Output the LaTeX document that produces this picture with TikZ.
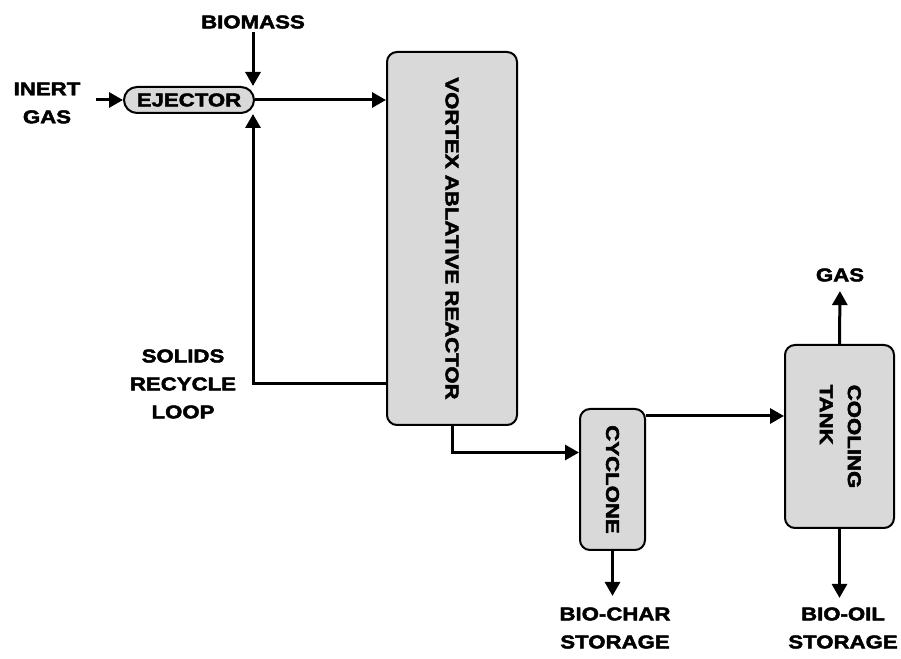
\documentclass[tikz,border=0pt]{standalone}
\usepackage{fontspec}
\setmainfont{Liberation Sans}[FakeStretch=1.2,BoldFeatures={FakeBold=2.5}]
\usetikzlibrary{arrows.meta}
\usepackage{graphicx}
\definecolor{boxgray}{RGB}{217,217,217}

\begin{document}
\begin{tikzpicture}[x=1pt,y=1pt,font=\fontsize{18.5}{28}\selectfont\bfseries,>={Triangle[length=14pt,width=15pt]}]
    \tikzset{blk/.style={rounded corners=10pt,draw,line width=2pt,fill=boxgray,inner sep=0pt},
             ar/.style={->,line width=3pt},
             lbl/.style={align=center}}
    \useasboundingbox (0,0) rectangle (901,658);
    \node[blk,minimum width=130,minimum height=373] (reac) at (452,419.5) {\rotatebox{-90}{VORTEX ABLATIVE REACTOR}};
    \node[blk,rounded corners=13pt,minimum width=130,minimum height=26] (ej) at (189,558) {EJECTOR};
    \node[blk,minimum width=65,minimum height=141] (cyc) at (612.5,178.5) {\rotatebox{-90}{CYCLONE}};
    \node[blk,minimum width=109,minimum height=183] (cool) at (839.5,221.5) {\rotatebox{-90}{\begin{tabular}{@{}l@{}}COOLING\\TANK\end{tabular}}};
    \node[lbl] (inert) at (47,555) {INERT\\GAS};
    \node[lbl] (bio) at (253,636) {BIOMASS};
    \node[lbl] (solid) at (183,274) {SOLIDS\\RECYCLE\\LOOP};
    \node[lbl] (char) at (615,30) {BIO-CHAR\\STORAGE};
    \node[lbl] (oil) at (843,30) {BIO-OIL\\STORAGE};
    \node[lbl] (gas) at (840,383) {GAS};
    \coordinate (ing) at (96,558);
    \coordinate (loop) at (253,274);
    \coordinate (cyo) at ([yshift=-8pt]cyc.north east);
    \coordinate (rin) at ([yshift=27pt]cyc.west);
    \draw[ar] (ing) -- (ej.west);
    \draw[ar] (bio.south) -- (bio.south |- ej.north);
    \draw[ar] (ej.east) -- (reac.west |- ej.east);
    \draw[ar] (reac.west |- loop) -- (loop) -- (loop |- ej.south);
    \draw[ar] (reac.south) |- (rin);
    \draw[ar] (cyo) -- (cyo -| cool.west);
    \draw[ar,shorten >=8pt] (cyc.south) -- (cyc.south |- char.north);
    \draw[ar,shorten >=6pt] (cool.north) -- (gas.south);
    \draw[ar,shorten >=6pt] (cool.south) -- (cool.south |- oil.north);
\end{tikzpicture}
\end{document}
